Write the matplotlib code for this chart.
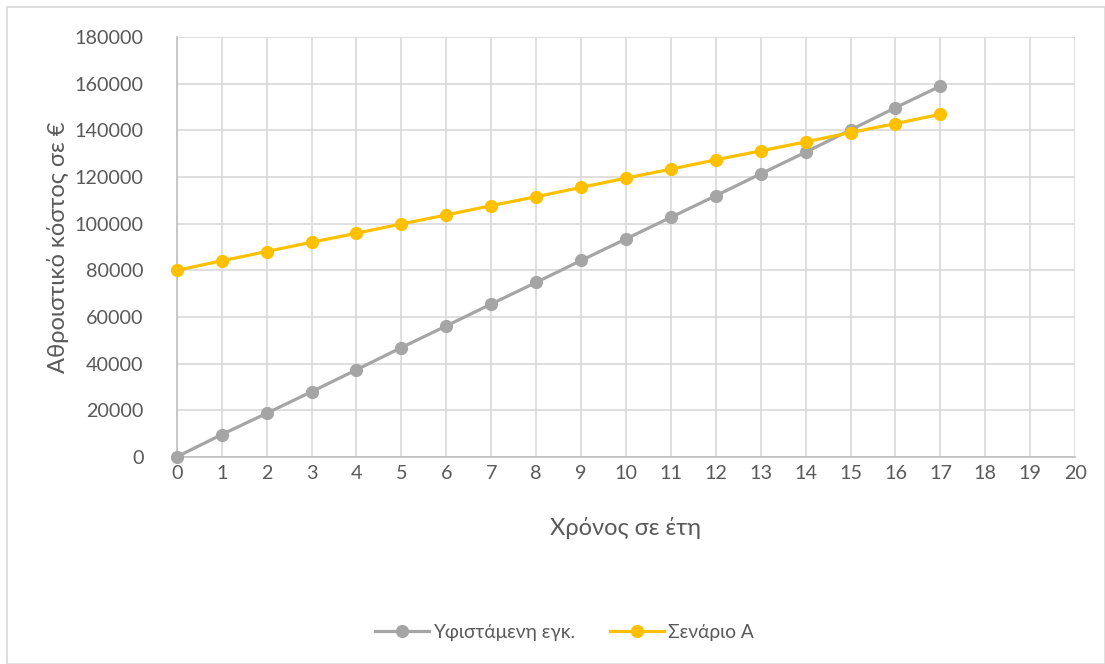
import matplotlib
matplotlib.use("Agg")
from matplotlib import pyplot as plt
from matplotlib.patches import Rectangle

plt.rcParams['font.family'] = ['Lato', 'DejaVu Sans']

years = list(range(0, 18))
existing = [0, 9550, 18670, 27930, 37330, 46880, 56150, 65550, 74810, 84220,
            93480, 102740, 112000, 121400, 130670, 140220, 149770, 159030]
scenario_a = [80000, 84070, 88060, 92050, 95900, 99890, 103740, 107730, 111580,
              115570, 119560, 123400, 127400, 131240, 135090, 139080, 142930, 146920]
labels = ['Υφιστάμενη εγκ.', 'Σενάριο Α']
x_ticks = list(range(0, 21))
y_ticks = list(range(0, 180001, 20000))

text_color = '#595959'
grid_color = '#D9D9D9'

fig = plt.figure(figsize=(11.05, 6.64), dpi=100)
ax = fig.add_axes([0.160, 0.312, 0.813, 0.632])

ax.plot(years, existing, color='#A5A5A5', lw=2.3, marker='o', ms=8.5,
        label=labels[0], clip_on=False, zorder=3)
ax.plot(years, scenario_a, color='#FFC000', lw=2.3, marker='o', ms=8.5,
        label=labels[1], clip_on=False, zorder=4)

ax.set_xlim(0, 20)
ax.set_ylim(0, 180000)
ax.set_xticks(x_ticks)
ax.set_yticks(y_ticks)
ax.grid(True, color=grid_color, lw=1.2)
ax.set_axisbelow(True)
for side in ['top', 'right']:
    ax.spines[side].set_visible(False)
for side in ['left', 'bottom']:
    ax.spines[side].set_color('#BFBFBF')
    ax.spines[side].set_linewidth(1.2)
ax.tick_params(length=0, labelsize=14.2, colors=text_color)
ax.tick_params(axis='x', pad=6)
ax.tick_params(axis='y', pad=24)

ax.set_xlabel('Χρόνος σε έτη', fontsize=17, color=text_color, va='center')
ax.set_ylabel('Αθροιστικό κόστος σε €', fontsize=17, color=text_color, va='center')
ax.xaxis.set_label_coords(0.5, -0.169)
ax.yaxis.set_label_coords(-0.1325, 0.5)

fig.legend(loc='center', bbox_to_anchor=(0.511, 0.048), ncol=2, frameon=False,
           fontsize=13.8, labelcolor=text_color, handlelength=2.8, columnspacing=1.8,
           handletextpad=0.25)

# outer chart border
fig.patches.append(Rectangle((0.006, 0.0), 0.994, 0.99, transform=fig.transFigure,
                             fill=False, edgecolor='#D9D9D9', lw=1.2))

plt.savefig('out.png', dpi=100)
